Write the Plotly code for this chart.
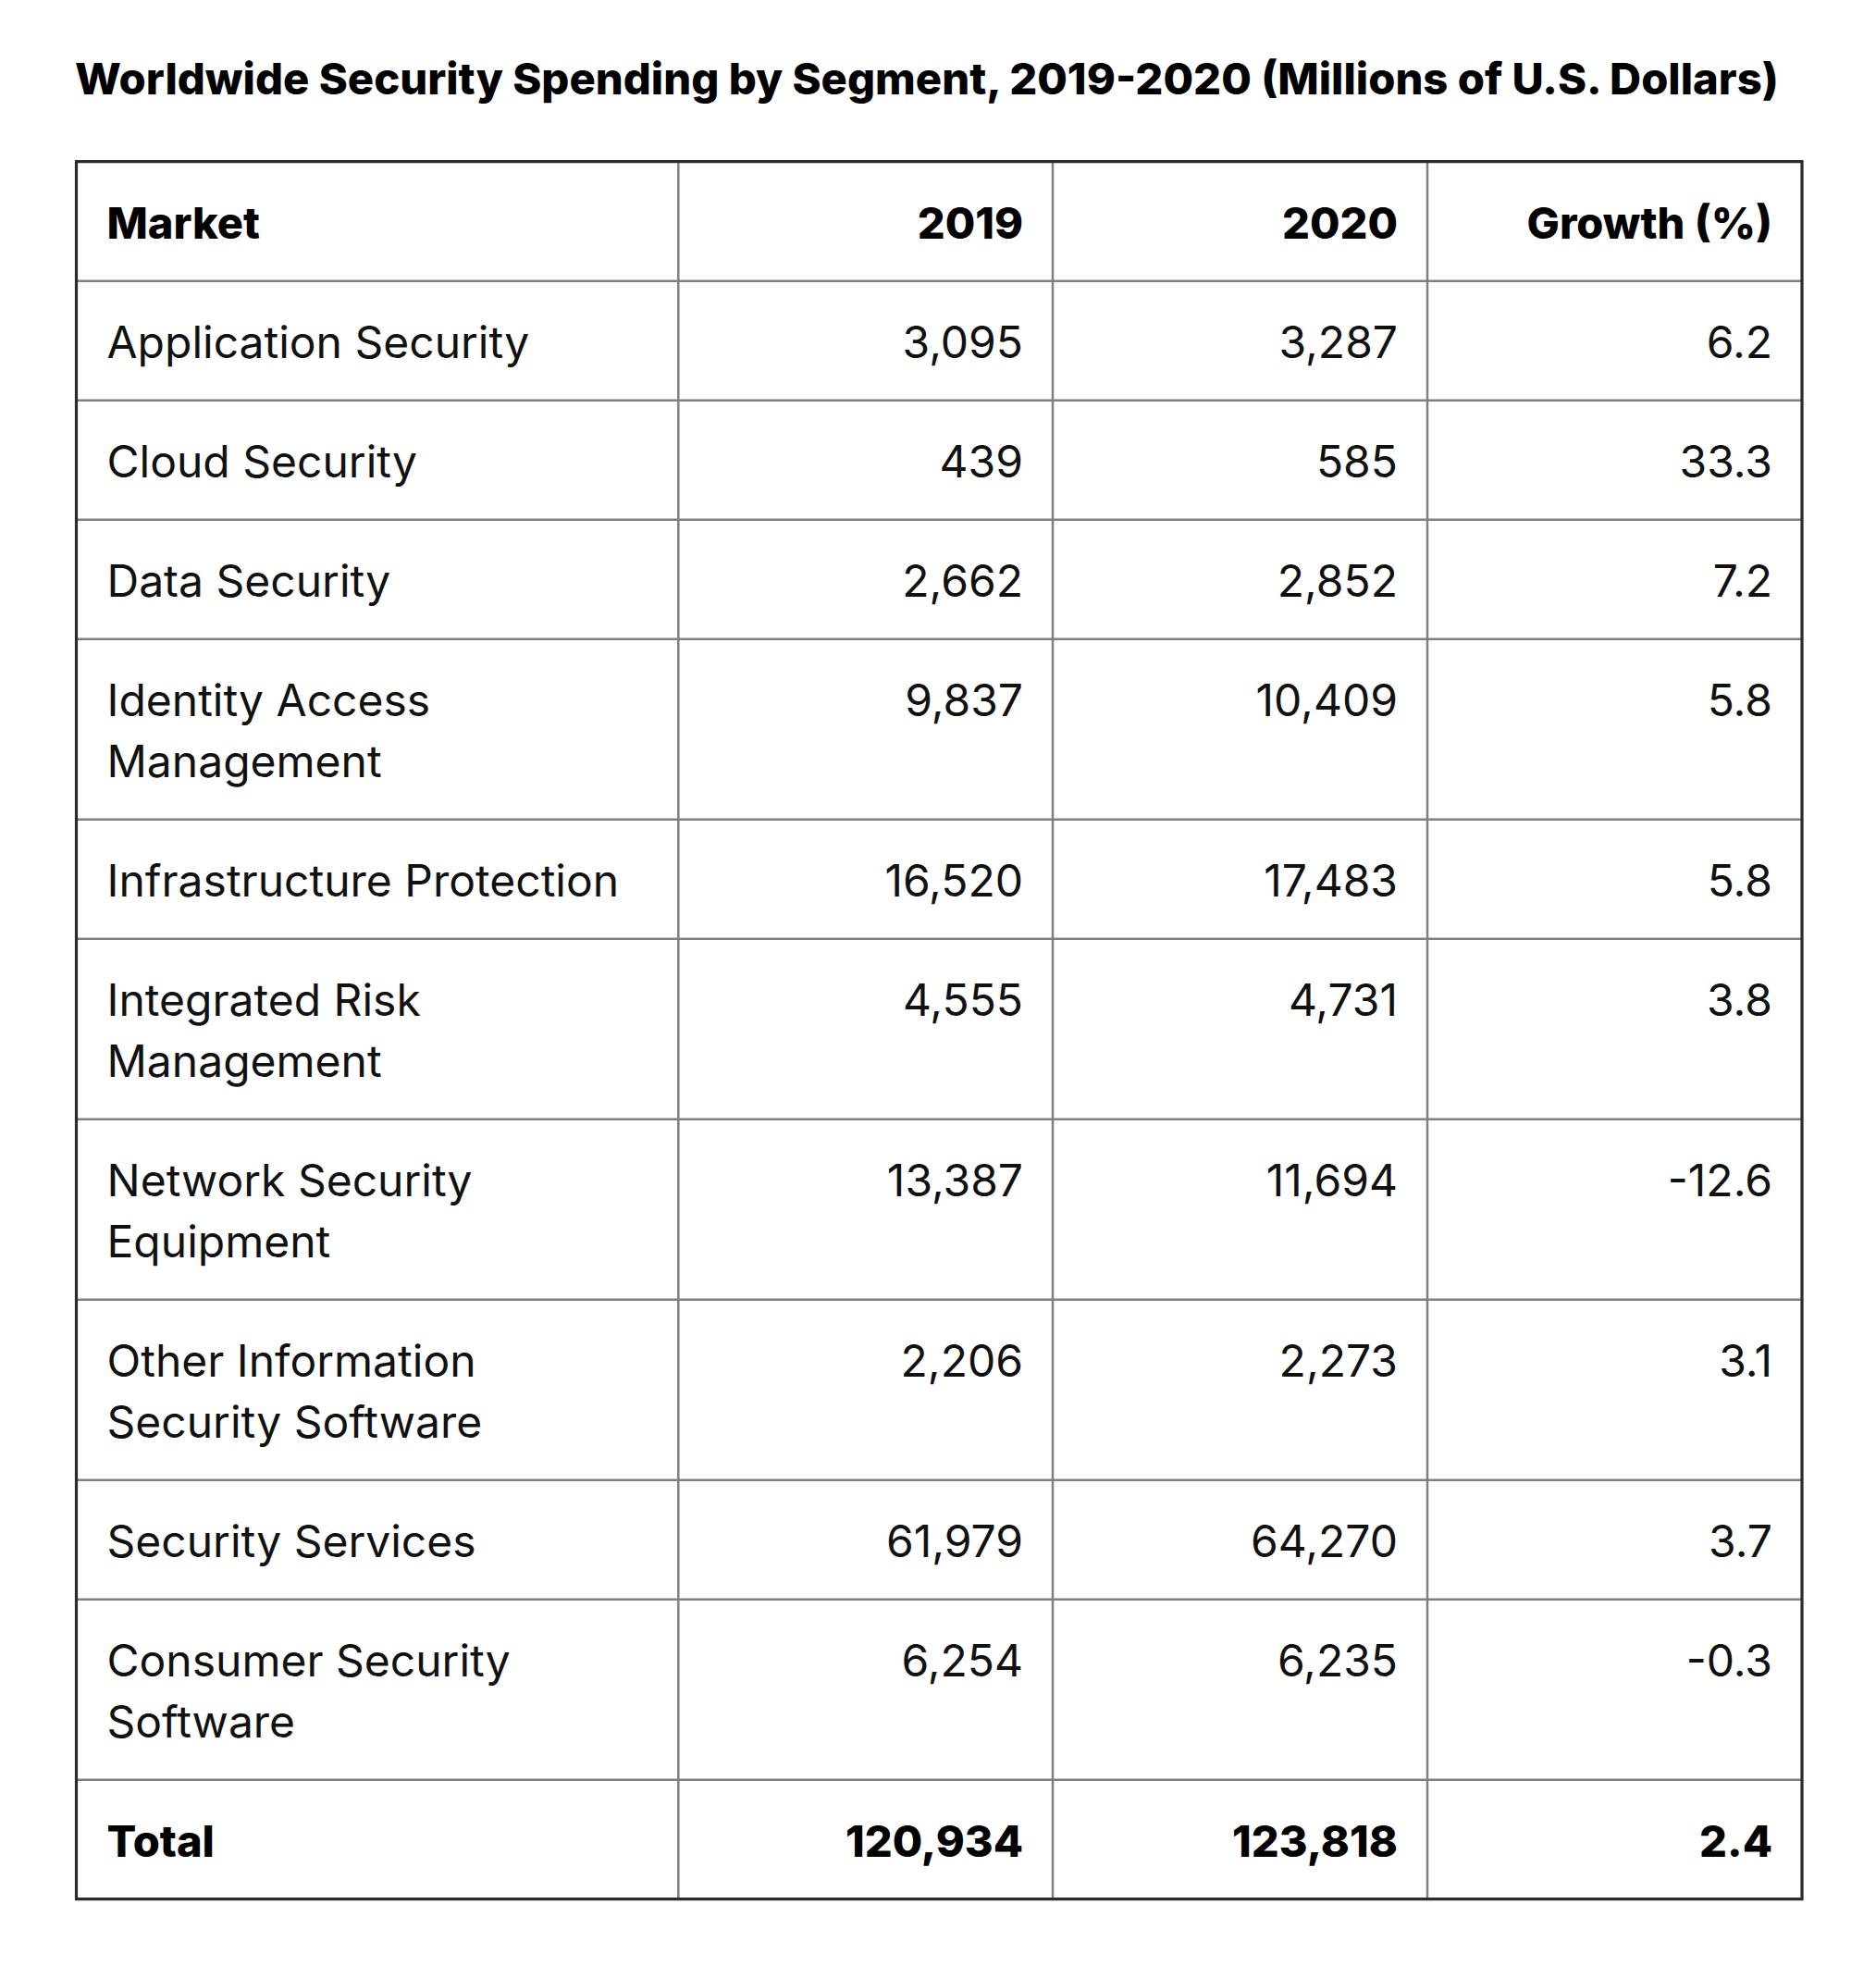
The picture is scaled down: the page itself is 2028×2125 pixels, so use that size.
import plotly.graph_objects as go

# ---------------- data ----------------
markets = ["Application Security", "Cloud Security", "Data Security",
           "Identity Access<br>Management", "Infrastructure Protection",
           "Integrated Risk<br>Management", "Network Security<br>Equipment",
           "Other Information<br>Security Software", "Security Services",
           "Consumer Security<br>Software"]
spend_2019 = [3095, 439, 2662, 9837, 16520, 4555, 13387, 2206, 61979, 6254]
spend_2020 = [3287, 585, 2852, 10409, 17483, 4731, 11694, 2273, 64270, 6235]
growth = [6.2, 33.3, 7.2, 5.8, 5.8, 3.8, -12.6, 3.1, 3.7, -0.3]
total_label = "Total"
total_2019 = 120934
total_2020 = 123818
total_growth = 2.4
headers = ["Market", "2019", "2020", "Growth (%)"]
title = "Worldwide Security Spending by Segment, 2019-2020 (Millions of U.S. Dollars)"

# ---------------- layout constants (page pixels) ----------------
OFF = 8                                # default body margin around the plot div
FIG_W, FIG_H = 2028 - 2 * OFF, 2125 - 2 * OFF
COL_EDGES = [82.5, 733.3, 1138, 1543, 1948]
TOP = 174.7
ROW_H = 129          # height of a one-line row
LINE_H = 66          # extra height / spacing per additional text line
BASELINE = 83        # first text baseline below the row top
PAD_L, PAD_R = 33, 32
FS = 48
FS_BOLD = 47
GRID = "#808080"
BORDER = "#2b2b2b"


def fx(px):
    return px - OFF


def fy(py):
    return py - OFF


# table rows: (cells, bold)
rows = [(headers, True)]
for m, a, b, g in zip(markets, spend_2019, spend_2020, growth):
    rows.append(([m, f"{a:,}", f"{b:,}", f"{g}"], False))
rows.append(([total_label, f"{total_2019:,}", f"{total_2020:,}", f"{total_growth}"], True))

texts = {False: dict(x=[], y=[], t=[], p=[]), True: dict(x=[], y=[], t=[], p=[])}
row_tops = []
y = TOP
for cells, bold in rows:
    row_tops.append(y)
    size = FS_BOLD if bold else FS
    nlines = max(len(c.split("<br>")) for c in cells)
    for ci, c in enumerate(cells):
        for li, line in enumerate(c.split("<br>")):
            if ci == 0:
                xx, pos = COL_EDGES[0] + PAD_L, "bottom right"
            else:
                xx, pos = COL_EDGES[ci + 1] - PAD_R, "bottom left"
            d = texts[bold]
            d["x"].append(fx(xx))
            # "bottom" text position puts the baseline 0.75*size below the anchor
            d["y"].append(fy(y + BASELINE - 0.75 * size + li * LINE_H))
            d["t"].append(line)
            d["p"].append(pos)
    y += ROW_H + (nlines - 1) * LINE_H
BOTTOM = y

fig = go.Figure()
for bold, d in texts.items():
    fig.add_trace(go.Scatter(
        x=d["x"], y=d["y"], text=d["t"], mode="text", textposition=d["p"],
        textfont=dict(family="Inter", size=FS_BOLD if bold else FS,
                      color="#000000" if bold else "#111111",
                      weight=800 if bold else 400),
        hoverinfo="skip", showlegend=False,
    ))

shapes = []
# horizontal row separators
for rt in row_tops[1:]:
    shapes.append(dict(type="line", xref="x", yref="y", x0=fx(COL_EDGES[0]), x1=fx(COL_EDGES[-1]),
                       y0=fy(rt), y1=fy(rt), line=dict(color=GRID, width=2.5)))
# vertical column separators
for ce in COL_EDGES[1:-1]:
    shapes.append(dict(type="line", xref="x", yref="y", x0=fx(ce), x1=fx(ce),
                       y0=fy(TOP), y1=fy(BOTTOM), line=dict(color=GRID, width=2.5)))
# outer border
shapes.append(dict(type="rect", xref="x", yref="y", x0=fx(COL_EDGES[0]), x1=fx(COL_EDGES[-1]),
                   y0=fy(TOP), y1=fy(BOTTOM), line=dict(color=BORDER, width=3.2),
                   fillcolor="rgba(0,0,0,0)"))

fig.update_layout(
    width=FIG_W, height=FIG_H,
    margin=dict(l=0, r=0, t=0, b=0),
    paper_bgcolor="white", plot_bgcolor="white",
    shapes=shapes,
    xaxis=dict(range=[0, FIG_W], visible=False, fixedrange=True),
    yaxis=dict(range=[FIG_H, 0], visible=False, fixedrange=True),
    hovermode=False,
    title=dict(text=title, x=fx(81) / FIG_W, xanchor="left",
               y=1 - fy(85) / FIG_H, yanchor="middle",
               font=dict(family="Inter", size=47.2, color="#000000", weight=800)),
)

fig.write_html("out.html")
